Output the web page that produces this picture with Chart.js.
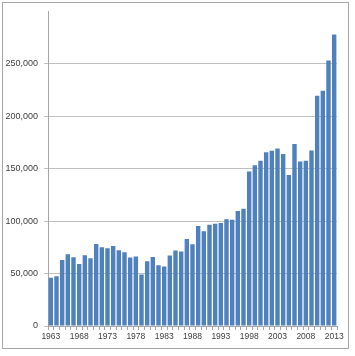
<!DOCTYPE html>
<html>
<head>
<meta charset="utf-8">
<script src="https://cdn.jsdelivr.net/npm/chart.js@4/dist/chart.umd.min.js"></script>
<style>
  html, body { margin: 0; padding: 0; background: #fff; }
  #wrap { position: relative; width: 355px; height: 356px; }
  #frame { position: absolute; left: 2px; top: 2px; width: 345px; height: 345px; border: 1px solid #a6a6a6; pointer-events: none; }
  canvas { position: absolute; left: 0; top: 0; }
</style>
</head>
<body>
<div id="wrap">
  <canvas id="c" width="355" height="356"></canvas>
  <div id="frame"></div>
</div>
<script>
const years = [];
for (let y = 1963; y <= 2013; y++) years.push(String(y));

const values = [
  46000, 47500, 63000, 68400, 65600, 59200, 67500, 64600, 78300, 75100,
  74100, 76400, 72200, 70300, 65300, 66200, 49100, 61800, 65900, 58000,
  56700, 67200, 71900, 71000, 83000, 78000, 95400, 90300, 96600, 97600,
  98200, 101700, 101400, 109600, 111900, 147300, 153400, 157500, 165700, 167000,
  169200, 164100, 143900, 173600, 156800, 157500, 167300, 219600, 224300, 253200,
  277900
];

const yTicks = [0, 50000, 100000, 150000, 200000, 250000];
const xLabelYears = ['1963','1968','1973','1978','1983','1988','1993','1998','2003','2008','2013'];

new Chart(document.getElementById('c'), {
  type: 'bar',
  data: {
    labels: years,
    datasets: [{
      data: values,
      backgroundColor: '#4f81bd',
      borderWidth: 0,
      barPercentage: 0.78,
      categoryPercentage: 1.0
    }]
  },
  options: {
    responsive: false,
    animation: false,
    layout: { padding: { left: 0, right: 18, top: 11, bottom: 0 } },
    plugins: { legend: { display: false }, tooltip: { enabled: false } },
    scales: {
      x: {
        offset: true,
        grid: {
          offset: true,
          drawOnChartArea: false,
          drawTicks: true,
          tickLength: 4,
          color: '#a6a6a6'
        },
        border: { color: '#a6a6a6', width: 1 },
        ticks: {
          autoSkip: false,
          maxRotation: 0,
          minRotation: 0,
          padding: 2,
          color: '#404040',
          font: { family: 'Liberation Sans, Arial, sans-serif', size: 8.5 },
          callback: function(v, i) {
            const lab = years[i];
            return xLabelYears.includes(lab) ? lab : '';
          }
        },
        afterFit: function(s) { s.height = 30; }
      },
      y: {
        min: 0,
        max: 300000,
        afterBuildTicks: function(s) {
          s.ticks = yTicks.map(v => ({ value: v })).concat([{ value: 300000 }]);
        },
        grid: {
          color: function(ctx) { return ctx.tick && ctx.tick.value > 250000 ? 'rgba(0,0,0,0)' : '#c0c0c0'; },
          tickLength: 4,
          lineWidth: 1
        },
        border: { color: '#a6a6a6', width: 1 },
        ticks: {
          padding: 6,
          color: '#404040',
          font: { family: 'Liberation Sans, Arial, sans-serif', size: 9 },
          callback: function(v) {
            if (v > 250000) return '';
            return v.toLocaleString('en-US');
          }
        },
        afterFit: function(s) { s.width = 48; }
      }
    }
  }
});
</script>
</body>
</html>
